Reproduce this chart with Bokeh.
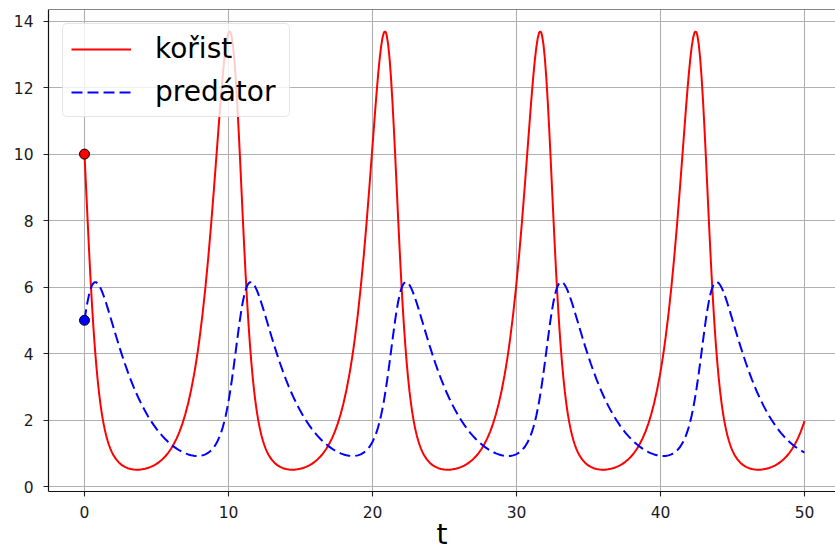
from bokeh.plotting import figure
from bokeh.models import Range1d, FixedTicker, Span, Legend, LegendItem, ColumnDataSource
from bokeh.embed import file_html
from bokeh.resources import INLINE

# ---- data (one cycle of values, times per cycle) ----
t_c1 = [0.0, 0.1, 0.2, 0.3, 0.4, 0.5, 0.6, 0.7, 0.8, 0.9, 1.0, 1.1, 1.2, 1.3, 1.4, 1.5, 1.6, 1.7, 1.8, 1.9, 2.0,
        2.2, 2.4, 2.6, 2.8, 3.0, 3.2, 3.4, 3.6, 3.8, 4.0, 4.2, 4.4, 4.6, 4.8, 5.0, 5.2, 5.4, 5.6, 5.8, 6.0, 6.2, 6.4,
        6.6, 6.8, 7.0, 7.2, 7.4, 7.6, 7.7, 7.8, 7.9, 8.0, 8.2, 8.4, 8.6, 8.8, 9.0, 9.2, 9.4, 9.5, 9.6, 9.7, 9.8,
        9.9, 10.0, 10.07, 10.14, 10.2, 10.3, 10.4, 10.5, 10.6, 10.7]
t_c2 = [10.785, 10.885, 10.985, 11.085, 11.185, 11.285, 11.385, 11.485, 11.585, 11.685, 11.785, 11.885, 11.985,
        12.085, 12.185, 12.285, 12.385, 12.485, 12.585, 12.685, 12.785,
        12.985, 13.185, 13.385, 13.585, 13.785, 13.985, 14.185, 14.385, 14.585, 14.785, 14.985, 15.185, 15.385,
        15.585, 15.785, 15.985, 16.185, 16.385, 16.585, 16.785, 16.985, 17.185, 17.385, 17.585, 17.785, 17.985,
        18.185, 18.385, 18.485, 18.585, 18.685, 18.785, 18.985, 19.185, 19.385, 19.585, 19.785, 19.985, 20.185,
        20.285, 20.385, 20.485, 20.585, 20.685, 20.785, 20.855, 20.925, 20.985, 21.085, 21.185, 21.285, 21.385,
        21.485]
t_c3 = [21.57, 21.67, 21.77, 21.87, 21.97, 22.07, 22.17, 22.27, 22.37, 22.47, 22.57, 22.67, 22.77, 22.87, 22.97,
        23.07, 23.17, 23.27, 23.37, 23.47, 23.57,
        23.77, 23.97, 24.17, 24.37, 24.57, 24.77, 24.97, 25.17, 25.37, 25.57, 25.77, 25.97, 26.17, 26.37, 26.57,
        26.77, 26.97, 27.17, 27.37, 27.57, 27.77, 27.97, 28.17, 28.37, 28.57, 28.77, 28.97, 29.17,
        29.27, 29.37, 29.47, 29.57, 29.77, 29.97, 30.17, 30.37, 30.57, 30.77, 30.97,
        31.07, 31.17, 31.27, 31.37, 31.47, 31.57, 31.64, 31.71, 31.77, 31.87, 31.97, 32.07, 32.17, 32.27]
t_c4 = [32.355, 32.455, 32.555, 32.655, 32.755, 32.855, 32.955, 33.055, 33.155, 33.255, 33.355, 33.455, 33.555,
        33.655, 33.755, 33.855, 33.955, 34.055, 34.155, 34.255, 34.355,
        34.555, 34.755, 34.955, 35.155, 35.355, 35.555, 35.755, 35.955, 36.155, 36.355, 36.555, 36.755, 36.955,
        37.155, 37.355, 37.555, 37.755, 37.955, 38.155, 38.355, 38.555, 38.755, 38.955, 39.155, 39.355, 39.555,
        39.755, 39.955, 40.055, 40.155, 40.255, 40.355, 40.555, 40.755, 40.955, 41.155, 41.355, 41.555, 41.755,
        41.855, 41.955, 42.055, 42.155, 42.255, 42.355, 42.425, 42.495, 42.555, 42.655, 42.755, 42.855, 42.955,
        43.055]
t_c5 = [43.14, 43.24, 43.34, 43.44, 43.54, 43.64, 43.74, 43.84, 43.94, 44.04, 44.14, 44.24, 44.34, 44.44, 44.54,
        44.64, 44.74, 44.84, 44.94, 45.04, 45.14,
        45.34, 45.54, 45.74, 45.94, 46.14, 46.34, 46.54, 46.74, 46.94, 47.14, 47.34, 47.54, 47.74, 47.94, 48.14,
        48.34, 48.54, 48.74, 48.94, 49.14, 49.34, 49.54, 49.74, 49.94, 50.0]

prey_cycle = [10.000, 9.075, 8.149, 7.249, 6.400, 5.620, 4.915, 4.287, 3.740, 3.264, 2.853, 2.502, 2.201, 1.946,
              1.727, 1.542, 1.384, 1.249, 1.133, 1.035, 0.950,
              0.816, 0.716, 0.643, 0.590, 0.552, 0.527, 0.512, 0.506, 0.507, 0.517, 0.533, 0.557, 0.589, 0.630,
              0.680, 0.742, 0.815, 0.903, 1.007, 1.130, 1.277, 1.449, 1.653, 1.892,
              2.175, 2.506, 2.895, 3.350, 3.604, 3.878, 4.173, 4.491, 5.197, 6.003, 6.912, 7.922, 9.017, 10.166,
              11.313, 11.858, 12.366, 12.819, 13.198, 13.483, 13.653, 13.690, 13.667, 13.575, 13.300, 12.869,
              12.284, 11.569, 10.749]
pred_cycle = [5.000, 5.285, 5.534, 5.743, 5.909, 6.030, 6.108, 6.146, 6.148, 6.118, 6.062, 5.983, 5.886, 5.774,
              5.651, 5.520, 5.382, 5.239, 5.094, 4.948, 4.802,
              4.512, 4.231, 3.959, 3.700, 3.455, 3.225, 3.008, 2.805, 2.616, 2.440, 2.276, 2.124, 1.984, 1.854,
              1.734, 1.623, 1.522, 1.430, 1.345, 1.269, 1.200, 1.139, 1.084, 1.037,
              0.997, 0.965, 0.941, 0.925, 0.920, 0.918, 0.918, 0.921, 0.937, 0.967, 1.016, 1.088, 1.189, 1.330,
              1.522, 1.642, 1.780, 1.940, 2.122, 2.329, 2.562, 2.742, 2.935, 3.106, 3.412, 3.735, 4.068, 4.402,
              4.728]
prey_end = [1.970]
pred_end = [1.024]

t_start = [0]
prey_start = [10]
pred_start = [5]

x_ticks = [0, 10, 20, 30, 40, 50]
y_ticks = [0, 2, 4, 6, 8, 10, 12, 14]
labels = ["kořist", "predátor"]
x_label = "t"

t_all = t_c1 + t_c2 + t_c3 + t_c4 + t_c5
prey_all = prey_cycle * 4 + prey_cycle[:45] + prey_end
pred_all = pred_cycle * 4 + pred_cycle[:45] + pred_end
src = ColumnDataSource(dict(t=t_all, prey=prey_all, pred=pred_all))

# ---- figure ----
FONT = "DejaVu Sans"
p = figure(width=835, height=553, output_backend="svg", toolbar_location=None, title=None,
           x_range=Range1d(-2.5, 52.15), y_range=Range1d(-0.15, 14.35),
           min_border_left=48, min_border_right=0, min_border_top=9, min_border_bottom=61)
p.outline_line_color = None
p.background_fill_color = "white"
p.border_fill_color = "white"

p.xaxis.ticker = FixedTicker(ticks=x_ticks)
p.yaxis.ticker = FixedTicker(ticks=y_ticks)
p.xgrid.ticker = FixedTicker(ticks=x_ticks)
p.ygrid.ticker = FixedTicker(ticks=y_ticks)
p.grid.grid_line_color = "#b0b0b0"
p.grid.grid_line_width = 1.1

for ax in (p.xaxis, p.yaxis):
    ax.axis_line_color = "#111111"
    ax.axis_line_width = 1.2
    ax.major_tick_line_color = "#222222"
    ax.major_tick_line_width = 1.1
    ax.major_tick_out = 5
    ax.major_tick_in = 0
    ax.minor_tick_line_color = None
    ax.major_label_text_font = FONT
    ax.major_label_text_font_size = "15.5px"
    ax.major_label_text_color = "#1a1a1a"
p.xaxis.major_label_standoff = 9
p.yaxis.major_label_standoff = 10

p.xaxis.axis_label = x_label
p.xaxis.axis_label_text_font = FONT
p.xaxis.axis_label_text_font_size = "28px"
p.xaxis.axis_label_text_font_style = "normal"
p.xaxis.axis_label_text_color = "#000000"
p.xaxis.axis_label_standoff = -3

# top spine
p.add_layout(Span(location=14.35, dimension="width", line_color="#111111", line_width=1.2))

r1 = p.line("t", "prey", source=src, line_color="#ff0000", line_width=2)
r2 = p.line("t", "pred", source=src, line_color="#0000ff", line_width=2, line_dash="11 5")
p.scatter(t_start, prey_start, size=10, fill_color="#ff0000", line_color="black", line_width=1)
p.scatter(t_start, pred_start, size=10, fill_color="#0000ff", line_color="black", line_width=1)

legend = Legend(items=[LegendItem(label=labels[0], renderers=[r1]),
                       LegendItem(label=labels[1], renderers=[r2])],
                location="top_left")
legend.margin = 14
legend.padding = 8
legend.spacing = 10
legend.glyph_width = 60
legend.glyph_height = 30
legend.label_standoff = 24
legend.label_width = 126
legend.label_text_font = FONT
legend.label_text_font_size = "28px"
legend.label_text_color = "#000000"
legend.border_line_color = "#cccccc"
legend.border_line_width = 1
legend.border_radius = 5
legend.background_fill_color = "white"
legend.background_fill_alpha = 0.8
p.add_layout(legend)

open("out.html", "w").write(file_html(p, INLINE))
